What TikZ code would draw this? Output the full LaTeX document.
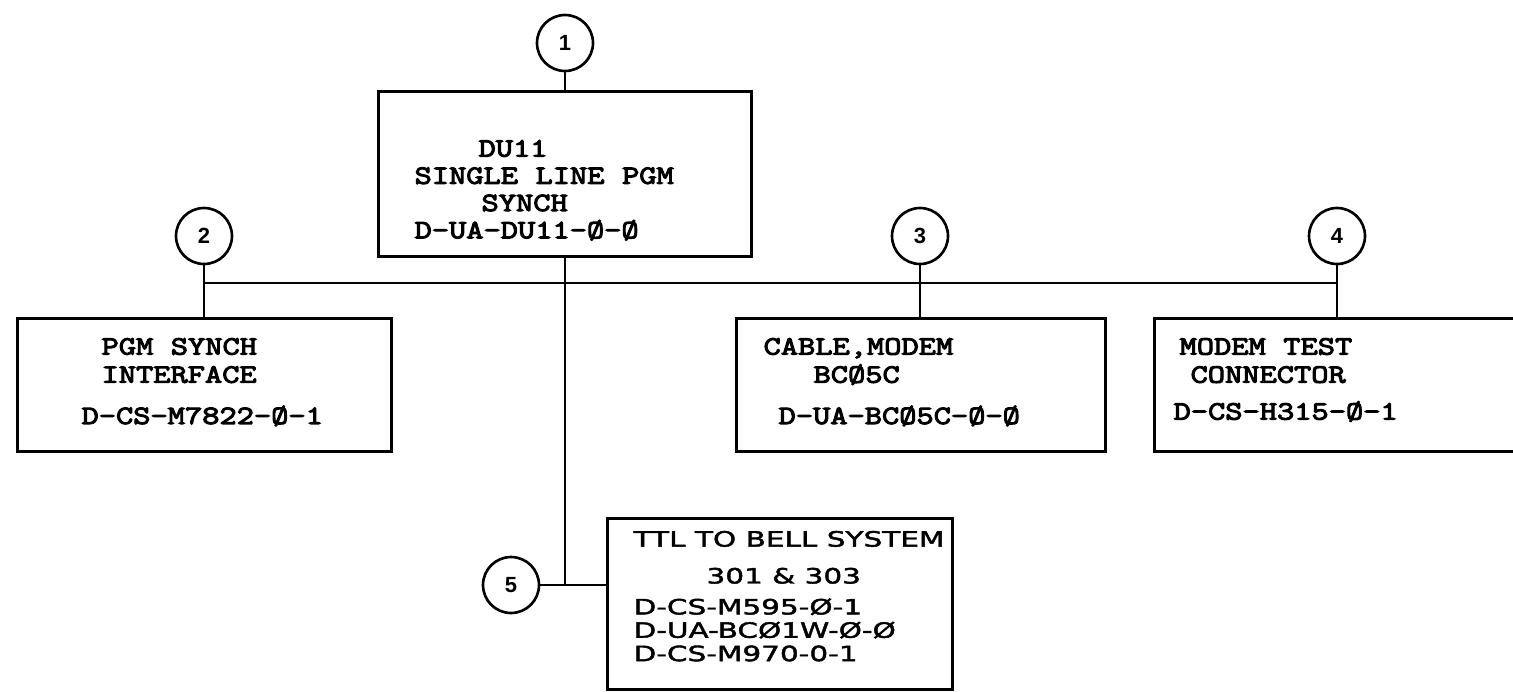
\documentclass[tikz,border=0pt]{standalone}
\usepackage{fontspec}
\usepackage{tikz}
\usetikzlibrary{positioning}
\newfontfamily\typefont[FakeStretch=1.27,FakeBold=4]{Latin Modern Mono}
\newfontfamily\letterfont[FakeStretch=1.4,FakeBold=2]{DejaVu Sans}
\newfontfamily\numfont{Liberation Sans}
\newcommand{\indt}[1]{\hspace*{#1cm}}
\newcommand{\typed}[1]{\typefont\fontsize{15pt}{#1}\selectfont\spaceskip=10pt\relax}
\tikzset{
  % Base box
  BX/.style={rectangle,draw,line width=1.8pt,inner sep=0pt,
             anchor=north west,align=flush left},
  % Typed boxes
  TB/.style={BX,font={\typed{16pt}}},
  % Hand lettered box
  LB/.style={BX,font={\letterfont\fontsize{12pt}{13.3pt}\selectfont}},
  % Index circle
  CN/.style={circle,draw,line width=1.5pt,minimum size=1.12cm,inner sep=0pt,
             font={\numfont\bfseries\fontsize{12.5pt}{12.5pt}\selectfont}},
  % Line
  ln/.style={line width=1.4pt}
}
\begin{document}
\begin{tikzpicture}[x=0.02cm,y=-0.02cm]
  \clip (0,0) rectangle (1513,691);
  \node[CN] (num1) at (565,43)  {1};
  \node[CN] (num2) at (204,236) {2};
  \node[CN] (num3) at (920,236) {3};
  \node[CN] (num4) at (1337,236) {4};
  \node[CN] (num5) at (511,585) {5};
  \coordinate (bus) at (0,283);
  \node[TB,text width=7.46cm,text height=1.3cm,text depth=2.0cm,
        font={\typed{15.5pt}}] (tbox) at (377,90)
    {\indt{2.0}DU11\\ \indt{0.72}SINGLE LINE PGM\\ \indt{2.06}SYNCH\\ \indt{0.72}D-UA-DU11-Ø-Ø};
  \node[TB,text width=7.48cm,text height=0.72cm,text depth=1.94cm] (bsynch) at (16,317)
    {\indt{1.68}PGM SYNCH\\ \indt{1.68}INTERFACE\\[7.5pt] \indt{1.28}D-CS-M7822-Ø-1};
  \node[TB,text width=7.38cm,text height=0.72cm,text depth=1.94cm] (bcable) at (735,317)
    {\indt{0.54}CABLE,MODEM\\ \indt{1.54}BCØ5C\\[7.5pt] \indt{0.84}D-UA-BCØ5C-Ø-Ø};
  \node[TB,text width=7.54cm,text height=0.72cm,text depth=1.94cm] (btest) at (1153,317)
    {\indt{0.5}MODEM TEST\\ \indt{0.72}CONNECTOR\\[5pt] \indt{0.38}D-CS-H315-Ø-1};
  \node[LB,text width=6.9cm,text height=0.56cm,text depth=2.86cm] (bttl) at (606,517)
    {\indt{0.52}TTL TO BELL SYSTEM\\[7.7pt] \indt{1.98}301 \& 303\\[4.3pt]
     \indt{0.52}D-CS-M595-Ø-1\\ \indt{0.52}D-UA-BCØ1W-Ø-Ø\\ \indt{0.52}D-CS-M970-0-1};
  \draw[ln] (num1) -- (num1 |- tbox.north);
  \draw[ln] (num1 |- tbox.south) -- (num1 |- num5);
  \draw[ln] (num5) -- (num5 -| bttl.west);
  \draw[ln] (num2 |- bus) -- (num4 |- bus);
  \draw[ln] (num2) -- (num2 |- bsynch.north);
  \draw[ln] (num3) -- (num3 |- bcable.north);
  \draw[ln] (num4) -- (num4 |- btest.north);
\end{tikzpicture}
\end{document}
